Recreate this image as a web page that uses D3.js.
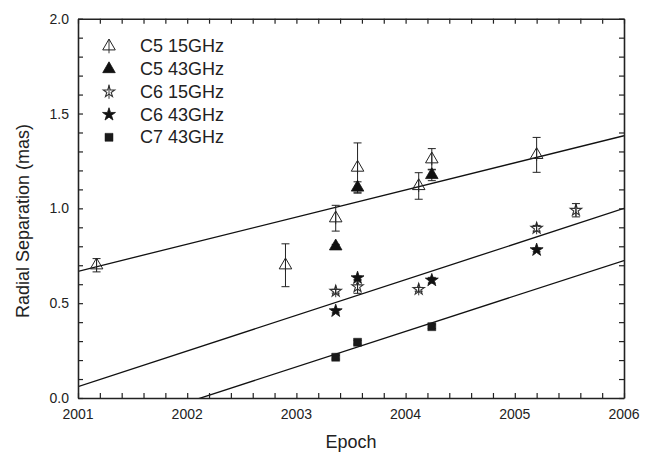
<!DOCTYPE html>
<html>
<head>
<meta charset="utf-8">
<script src="https://cdn.jsdelivr.net/npm/d3@7"></script>
<style>
  body { margin: 0; background: #fff; }
  text { font-family: "Liberation Sans", Arial, sans-serif; fill: #222; }
</style>
</head>
<body>
<div id="chart"></div>
<script>
// data
var c5_15_year = [2001.17, 2002.90, 2003.36, 2003.56, 2004.12, 2004.24, 2005.20];
var c5_15_val = [0.70, 0.70, 0.948, 1.215, 1.118, 1.259, 1.282];
var c5_15_err = [0.035, 0.113, 0.068, 0.13, 0.07, 0.056, 0.092];

var c5_43_year = [2003.36, 2003.56, 2004.24];
var c5_43_val = [0.80, 1.11, 1.176];
var c5_43_err = [0.01, 0.03, 0.03];

var c6_15_year = [2003.36, 2003.56, 2004.12, 2005.20, 2005.56];
var c6_15_val = [0.563, 0.587, 0.573, 0.895, 0.99];
var c6_15_err = [0.01, 0.035, 0.01, 0.015, 0.035];

var c6_43_year = [2003.36, 2003.56, 2004.24, 2005.20];
var c6_43_val = [0.459, 0.633, 0.621, 0.781];
var c6_43_err = [0.01, 0.01, 0.015, 0.01];

var c7_43_year = [2003.36, 2003.56, 2004.24];
var c7_43_val = [0.215, 0.294, 0.376];
var c7_43_err = [0.01, 0.01, 0.01];

// linear fits: value at 2001 and slope per year
var fitIntercept = [0.668, 0.06, -0.21];
var fitSlope = [0.143, 0.188, 0.187];

var legendLabels = ["C5 15GHz", "C5 43GHz", "C6 15GHz", "C6 43GHz", "C7 43GHz"];
var xTicks = [2001, 2002, 2003, 2004, 2005, 2006];
var yTicks = [0.0, 0.5, 1.0, 1.5, 2.0];

var width = 661;
var height = 454;
var margin = { top: 18.7, right: 37, bottom: 56, left: 78 };
var plotWidth = width - margin.left - margin.right;
var plotHeight = height - margin.top - margin.bottom;

var svg = d3.select('#chart')
    .append("svg")
    .attr("width", width)
    .attr("height", height);

var plot = svg.append("g")
    .attr("transform", "translate(" + margin.left + "," + margin.top + ")");

var xScale = d3.scaleLinear().domain([2001, 2006]).range([0, plotWidth]);
var yScale = d3.scaleLinear().domain([0, 2]).range([plotHeight, 0]);

svg.append("defs").append("clipPath").attr("id", "clip")
    .append("rect").attr("width", plotWidth).attr("height", plotHeight);

// fit lines
var fits = fitIntercept.map(function (b, i) { return { b: b, m: fitSlope[i] }; });
plot.append("g").attr("clip-path", "url(#clip)")
    .selectAll("line").data(fits).enter().append("line")
    .attr("x1", xScale(2001))
    .attr("x2", xScale(2006))
    .attr("y1", function (d) { return yScale(d.b); })
    .attr("y2", function (d) { return yScale(d.b + d.m * 5); })
    .style("stroke", "#111")
    .style("stroke-width", 1.3);

// symbols
var symTriangle = d3.symbol().type(d3.symbolTriangle).size(68);
var symStar = d3.symbol().type(d3.symbolStar).size(52);
var symStarOpen = d3.symbol().type(d3.symbolStar).size(40);
var symSquare = d3.symbol().type(d3.symbolSquare).size(64);

var series = [
    { year: c5_15_year, val: c5_15_val, err: c5_15_err, path: symTriangle(), fill: "none", stroke: "#222", sw: 1, cross: true },
    { year: c5_43_year, val: c5_43_val, err: c5_43_err, path: symTriangle(), fill: "#111", stroke: "#111", sw: 0.8, cross: false },
    { year: c6_15_year, val: c6_15_val, err: c6_15_err, path: symStarOpen(), fill: "none", stroke: "#333", sw: 1.1, cross: true },
    { year: c6_43_year, val: c6_43_val, err: c6_43_err, path: symStar(), fill: "#111", stroke: "#111", sw: 0.8, cross: false },
    { year: c7_43_year, val: c7_43_val, err: c7_43_err, path: symSquare(), fill: "#1a1a1a", stroke: "#1a1a1a", sw: 0.5, cross: false }
];

function pointsOf(s) {
    return s.year.map(function (y, i) { return { x: y, y: s.val[i], e: s.err[i] }; });
}

series.forEach(function (s) {
    var g = plot.append("g");
    var pts = pointsOf(s);
    var bars = g.selectAll(".err").data(pts).enter().append("g").classed("err", true)
        .attr("transform", function (d) { return "translate(" + xScale(d.x) + ",0)"; });
    bars.append("line")
        .attr("y1", function (d) { return yScale(d.y + d.e); })
        .attr("y2", function (d) { return yScale(d.y - d.e); })
        .style("stroke", "#222").style("stroke-width", 1);
    [1, -1].forEach(function (sign) {
        bars.append("line")
            .attr("x1", -4).attr("x2", 4)
            .attr("y1", function (d) { return yScale(d.y + sign * d.e); })
            .attr("y2", function (d) { return yScale(d.y + sign * d.e); })
            .style("stroke", "#222").style("stroke-width", 1);
    });
    g.selectAll(".pt").data(pts).enter().append("path").classed("pt", true)
        .attr("d", s.path)
        .attr("transform", function (d) { return "translate(" + xScale(d.x) + "," + yScale(d.y) + ")"; })
        .style("fill", s.fill)
        .style("stroke", s.stroke)
        .style("stroke-width", s.sw);
    if (s.cross) {
        g.selectAll(".cr").data(pts).enter().append("line").classed("cr", true)
            .attr("x1", function (d) { return xScale(d.x); })
            .attr("x2", function (d) { return xScale(d.x); })
            .attr("y1", function (d) { return yScale(d.y) - 6; })
            .attr("y2", function (d) { return yScale(d.y) + 6; })
            .style("stroke", "#222").style("stroke-width", 0.9);
    }
});

// frame and inward ticks
var xAxisB = d3.axisBottom(xScale).tickValues(d3.range(2001, 2006.01, 0.2)).tickSizeInner(-5).tickSizeOuter(0).tickFormat("");
var xAxisT = d3.axisTop(xScale).tickValues(d3.range(2001, 2006.01, 0.2)).tickSizeInner(-5).tickSizeOuter(0).tickFormat("");
var yAxisL = d3.axisLeft(yScale).tickValues(d3.range(0, 2.01, 0.1)).tickSizeInner(-5).tickSizeOuter(0).tickFormat("");
var yAxisR = d3.axisRight(yScale).tickValues(d3.range(0, 2.01, 0.1)).tickSizeInner(-5).tickSizeOuter(0).tickFormat("");

plot.append("g").attr("transform", "translate(0," + plotHeight + ")").call(xAxisB);
plot.append("g").call(xAxisT);
plot.append("g").call(yAxisL);
plot.append("g").attr("transform", "translate(" + plotWidth + ",0)").call(yAxisR);
plot.selectAll(".domain").style("stroke", "#222").style("stroke-width", 1.6);
plot.selectAll(".tick line").style("stroke", "#222").style("stroke-width", 1.2);

// tick labels
plot.selectAll(".xlab").data(xTicks).enter().append("text")
    .attr("x", function (d) { return xScale(d); })
    .attr("y", plotHeight + 21)
    .attr("text-anchor", "middle")
    .style("font-size", "14px")
    .text(function (d) { return d; });
plot.selectAll(".ylab").data(yTicks).enter().append("text")
    .attr("x", -9)
    .attr("y", function (d) { return yScale(d) + 5; })
    .attr("text-anchor", "end")
    .style("font-size", "14px")
    .text(function (d) { return d.toFixed(1); });

// axis titles
svg.append("text")
    .attr("x", margin.left + plotWidth / 2)
    .attr("y", 448)
    .attr("text-anchor", "middle")
    .style("font-size", "18px")
    .text("Epoch");
svg.append("text")
    .attr("transform", "translate(29,221) rotate(-90)")
    .attr("text-anchor", "middle")
    .style("font-size", "18px")
    .text("Radial Separation (mas)");

// legend
var legend = svg.append("g").attr("transform", "translate(109,52.3)");
var rows = legend.selectAll(".leg").data(series).enter().append("g").classed("leg", true)
    .attr("transform", function (d, i) { return "translate(0," + (i * 22.75) + ")"; });
rows.append("path")
    .attr("d", function (d) { return d.path; })
    .attr("transform", "translate(0,-6)")
    .style("fill", function (d) { return d.fill; })
    .style("stroke", function (d) { return d.stroke; })
    .style("stroke-width", function (d) { return d.sw; });
rows.filter(function (d) { return d.cross; }).append("line")
    .attr("y1", -13).attr("y2", 1)
    .style("stroke", "#222").style("stroke-width", 0.9);
rows.append("text")
    .attr("x", 31)
    .style("font-size", "18px")
    .text(function (d, i) { return legendLabels[i]; });
</script>
</body>
</html>
